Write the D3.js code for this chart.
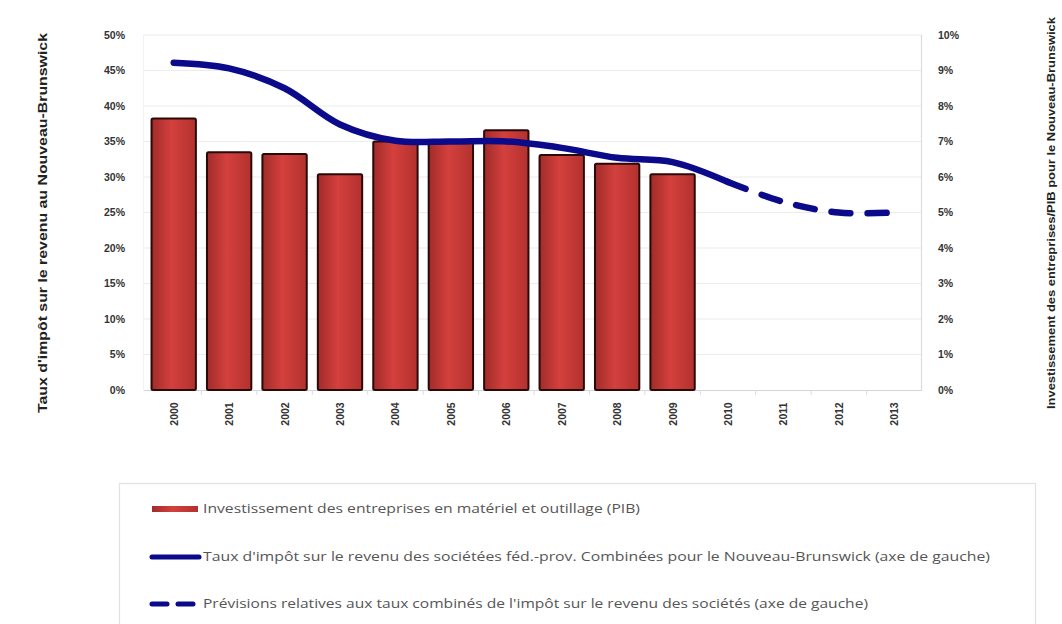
<!DOCTYPE html>
<html><head><meta charset="utf-8">
<script src="https://cdn.jsdelivr.net/npm/d3@7"></script>
<style>body{margin:0;background:#fff}svg{display:block}</style>
</head><body>
<svg id="c" width="1062" height="624"></svg>
<script>
const years = ["2000","2001","2002","2003","2004","2005","2006","2007","2008","2009","2010","2011","2012","2013"];
const investYears = ["2000","2001","2002","2003","2004","2005","2006","2007","2008","2009"];
const investValues = [7.65, 6.7, 6.65, 6.08, 7.0, 7.0, 7.32, 6.62, 6.37, 6.08]; // right axis, % of GDP
const taxYears = ["2000","2001","2002","2003","2004","2005","2006","2007","2008","2009","2010"];
const taxValues = [46.1, 45.3, 42.5, 37.4, 35.1, 35.0, 35.0, 34.1, 32.7, 32.1, 29.3];
const forecastYears = ["2010","2011","2012","2013"];
const forecastValues = [29.3, 26.5, 25.0, 25.0];
const leftTicks = [0,5,10,15,20,25,30,35,40,45,50];
const rightTicks = [0,1,2,3,4,5,6,7,8,9,10];
const leftTitle = "Taux d'impôt sur le revenu au Nouveau-Brunswick";
const rightTitle = "Investissement des entreprises/PIB pour le Nouveau-Brunswick";
const legendLabels = [
  "Investissement des entreprises  en matériel et outillage (PIB)",
  "Taux d'impôt sur le revenu des sociétées féd.-prov. Combinées pour le Nouveau-Brunswick (axe de gauche)",
  "Prévisions relatives aux taux combinés de l'impôt sur le revenu des sociétés (axe de gauche)"
];

const svg = d3.select("#c");
const x = d3.scaleBand().domain(years).range([146, 922]).paddingInner(0.2).paddingOuter(0.1);
const yL = d3.scaleLinear().domain([0,50]).range([390,35]);
const yR = d3.scaleLinear().domain([0,10]).range([390,35]);

const defs = svg.append("defs");
const g1 = defs.append("linearGradient").attr("id","barg").attr("x1","0").attr("x2","1").attr("y1","0").attr("y2","0");
g1.append("stop").attr("offset","0").attr("stop-color","#a02c2a");
g1.append("stop").attr("offset","0.45").attr("stop-color","#d4403d");
g1.append("stop").attr("offset","1").attr("stop-color","#b2312e");

// gridlines
svg.append("g").selectAll("line").data(leftTicks.slice(1)).join("line")
  .attr("x1",143).attr("x2",922).attr("y1",d=>yL(d)).attr("y2",d=>yL(d))
  .attr("stroke","#ececec").attr("stroke-width",1.2);

// axes lines
svg.append("line").attr("x1",143).attr("x2",922).attr("y1",390.5).attr("y2",390.5).attr("stroke","#d4d4d4").attr("stroke-width",1.2);
svg.append("line").attr("x1",921.5).attr("x2",921.5).attr("y1",35).attr("y2",391).attr("stroke","#dcdcdc").attr("stroke-width",1.2);
svg.append("line").attr("x1",143.5).attr("x2",143.5).attr("y1",35).attr("y2",391).attr("stroke","#f2f2f2").attr("stroke-width",1);
// category tick marks
svg.append("g").selectAll("line").data(years.slice(1)).join("line")
  .attr("x1",d=>x(d)-x.step()*0.1).attr("x2",d=>x(d)-x.step()*0.1)
  .attr("y1",390).attr("y2",395).attr("stroke","#dcdcdc");

// left axis
const la = svg.append("g").attr("transform","translate(128,0)")
  .call(d3.axisLeft(yL).tickValues(leftTicks).tickSize(0).tickFormat(d=>d+"%"));
la.select(".domain").remove();
la.selectAll("text").attr("font-family","Liberation Sans, Arial, sans-serif").attr("font-weight","bold")
  .attr("font-size",10.5).attr("fill","#333").attr("dx",0);

// right axis
const ra = svg.append("g").attr("transform","translate(935,0)")
  .call(d3.axisRight(yR).tickValues(rightTicks).tickSize(0).tickFormat(d=>d+"%"));
ra.select(".domain").remove();
ra.selectAll("text").attr("font-family","Liberation Sans, Arial, sans-serif").attr("font-weight","bold")
  .attr("font-size",10.5).attr("fill","#333").attr("dx",0);

// x axis labels
svg.append("g").selectAll("text").data(years).join("text")
  .attr("transform",d=>`translate(${x(d)+x.bandwidth()/2+4},414) rotate(-90)`)
  .attr("text-anchor","middle")
  .attr("font-family","Liberation Sans, Arial, sans-serif").attr("font-weight","bold")
  .attr("font-size",10.5).attr("fill","#333").text(d=>d);

// bars
const invData = investYears.map((y,i)=>({y, v:investValues[i]}));
svg.append("g").selectAll("rect").data(invData).join("rect")
  .attr("x",d=>x(d.y)).attr("width",x.bandwidth())
  .attr("y",d=>yR(d.v)).attr("height",d=>yR(0)-yR(d.v))
  .attr("fill","url(#barg)").attr("stroke","#2a0a08").attr("stroke-width",2).attr("rx",1.5);

// lines
const line = d3.line().x(d=>x(d.y)+x.bandwidth()/2).y(d=>yL(d.v)).curve(d3.curveCatmullRom.alpha(0.5));
const taxData = taxYears.map((y,i)=>({y, v:taxValues[i]}));
const fcData = forecastYears.map((y,i)=>({y, v:forecastValues[i]}));
svg.append("path").datum(taxData).attr("d",line).attr("fill","none")
  .attr("stroke","#0a0a8a").attr("stroke-width",6.5).attr("stroke-linecap","round").attr("stroke-linejoin","round");
svg.append("path").datum(fcData).attr("d",line).attr("fill","none")
  .attr("stroke","#0a0a8a").attr("stroke-width",6.5).attr("stroke-linecap","round")
  .attr("stroke-dasharray","19,17");

// axis titles
svg.append("text").attr("transform","translate(47,223) rotate(-90)").attr("text-anchor","middle")
  .attr("font-family","Liberation Sans, Arial, sans-serif").attr("font-weight","bold")
  .attr("font-size",13).attr("fill","#222")
  .attr("textLength",380).attr("lengthAdjust","spacingAndGlyphs").text(leftTitle);
svg.append("text").attr("transform","translate(1055,213) rotate(-90)").attr("text-anchor","middle")
  .attr("font-family","Liberation Sans, Arial, sans-serif").attr("font-weight","bold")
  .attr("font-size",11.5).attr("fill","#222")
  .attr("textLength",392).attr("lengthAdjust","spacingAndGlyphs").text(rightTitle);

// legend
svg.append("rect").attr("x",119.5).attr("y",483.5).attr("width",916).attr("height",160)
  .attr("fill","none").attr("stroke","#e2e2e2").attr("stroke-width",1.2);
const legY = [509, 557, 604];
const legW = [437, 787, 665];
svg.append("rect").attr("x",152).attr("y",legY[0]-3).attr("width",46).attr("height",6).attr("fill","url(#barg)");
svg.append("line").attr("x1",152).attr("x2",199).attr("y1",legY[1]).attr("y2",legY[1])
  .attr("stroke","#0a0a8a").attr("stroke-width",5).attr("stroke-linecap","round");
svg.append("line").attr("x1",152).attr("x2",199).attr("y1",legY[2]).attr("y2",legY[2])
  .attr("stroke","#0a0a8a").attr("stroke-width",5).attr("stroke-linecap","round").attr("stroke-dasharray","15,11");
svg.append("g").selectAll("text").data(legendLabels).join("text")
  .attr("x",203).attr("y",(d,i)=>legY[i]+4)
  .attr("font-family","Open Sans, Liberation Sans, sans-serif").attr("font-size",12)
  .attr("fill","#555").attr("textLength",(d,i)=>legW[i]).attr("lengthAdjust","spacingAndGlyphs")
  .text(d=>d);
</script>
</body></html>
